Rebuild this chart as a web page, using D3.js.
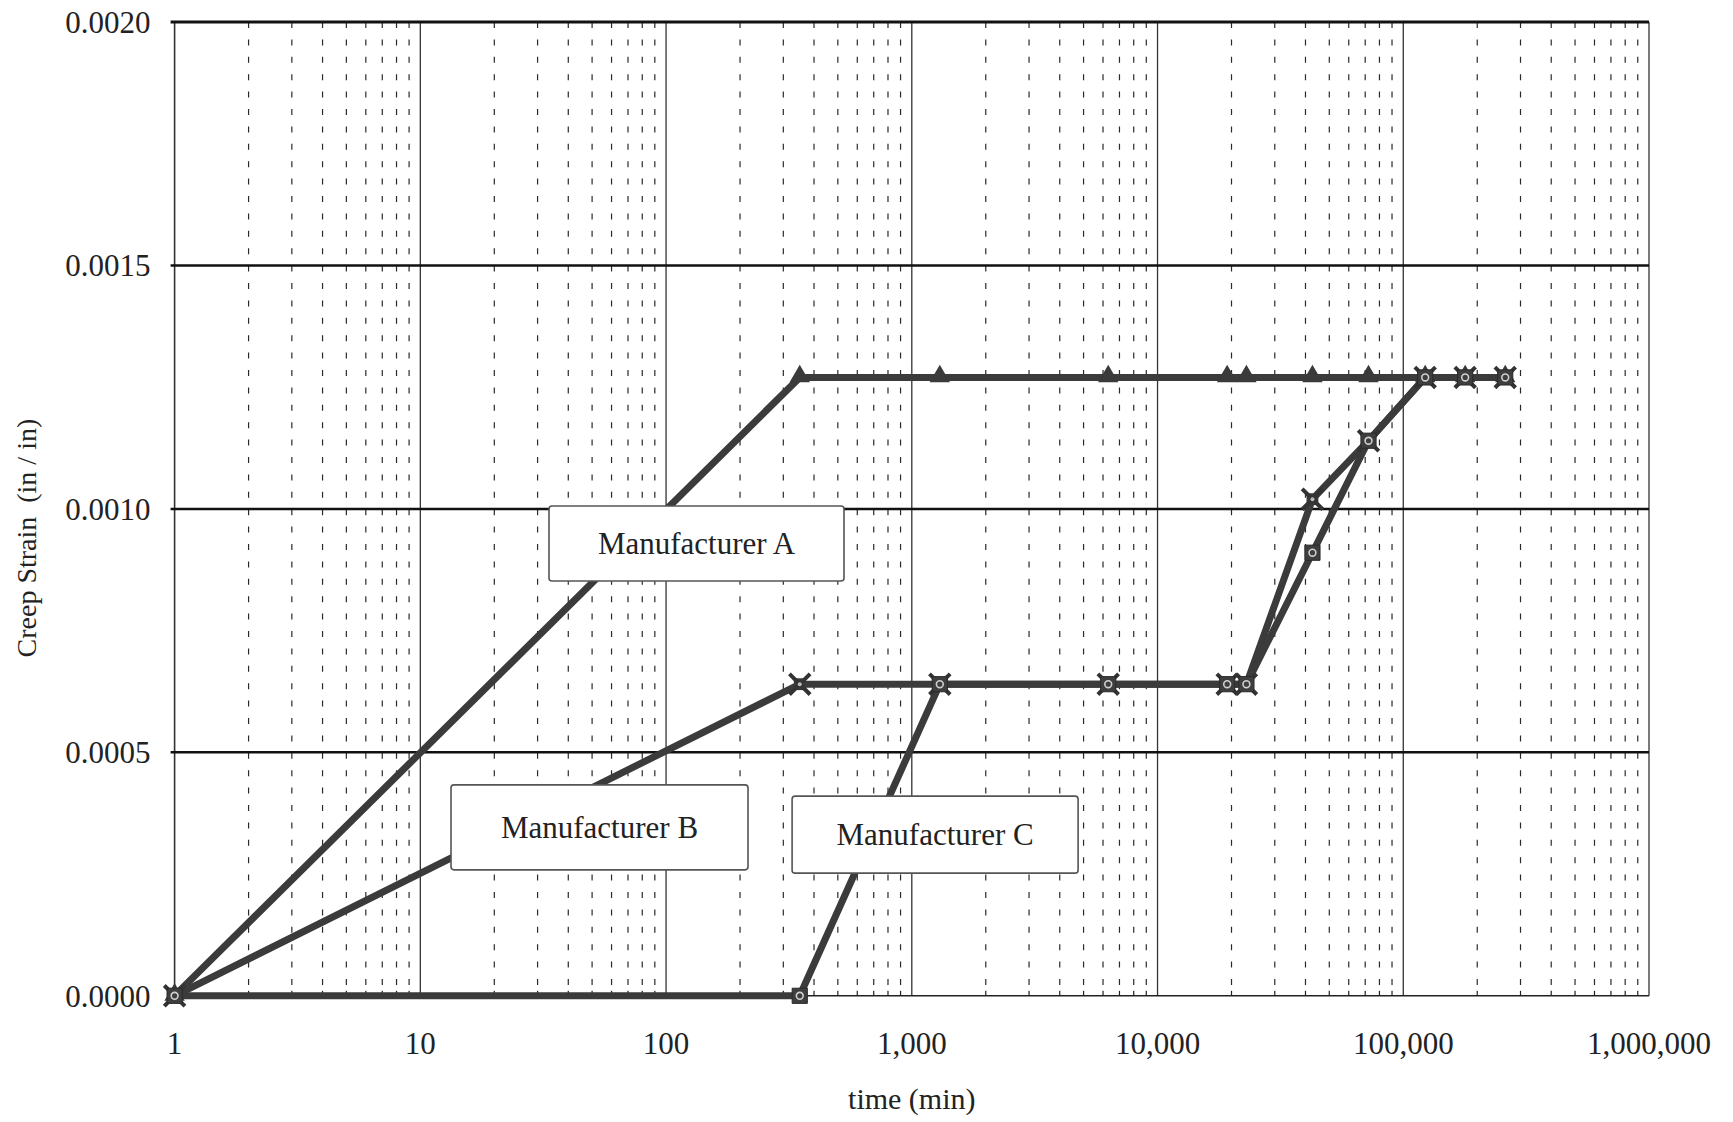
<!DOCTYPE html>
<html>
<head>
<meta charset="utf-8">
<script src="https://cdn.jsdelivr.net/npm/d3@7"></script>
<style>
  html, body { margin: 0; padding: 0; background: #fff; }
  svg { display: block; }
  text { font-family: "Liberation Serif", "Times New Roman", serif; fill: #222; }
</style>
</head>
<body>
<svg id="chart" width="1733" height="1122"></svg>
<script>
// ---- data ----
const timeMin = [1, 350, 1300, 6300, 19200, 23000, 42700, 72200, 122800, 178600, 260000];
const strainA = [0, 0.00127, 0.00127, 0.00127, 0.00127, 0.00127, 0.00127, 0.00127, 0.00127, 0.00127, 0.00127];
const strainB = [0, 0.00064, 0.00064, 0.00064, 0.00064, 0.00064, 0.00102, 0.00114, 0.00127, 0.00127, 0.00127];
const strainC = [0, 0, 0.00064, 0.00064, 0.00064, 0.00064, 0.00091, 0.00114, 0.00127, 0.00127, 0.00127];
const seriesNames = ["Manufacturer A", "Manufacturer B", "Manufacturer C"];
const xTickValues = [1, 10, 100, 1000, 10000, 100000, 1000000];
const yTickValues = [0, 0.0005, 0.0010, 0.0015, 0.0020];
const labelTime = [133, 53.6, 1244];
const labelStrain = [0.000929, 0.000346, 0.000331];
const xTitle = "time (min)";
const yTitle = "Creep Strain  (in / in)";

// ---- layout ----
const W = 1733, H = 1122;
const margin = { left: 174.6, right: 84, top: 22, bottom: 126.2 };
const iw = W - margin.left - margin.right;
const ih = H - margin.top - margin.bottom;
const lineColor = "#3b3b3b";

const svg = d3.select("#chart");
const g = svg.append("g").attr("transform", `translate(${margin.left},${margin.top})`);

const x = d3.scaleLog().domain([1, 1e6]).range([0, iw]);
const y = d3.scaleLinear().domain([0, 0.002]).range([ih, 0]);

// minor vertical grid (dashed)
const minorTicks = [];
xTickValues.slice(0, -1).forEach(d => { for (let k = 2; k <= 9; k++) minorTicks.push(d * k); });
g.append("g").selectAll("line").data(minorTicks).join("line")
  .attr("x1", d => x(d)).attr("x2", d => x(d))
  .attr("y1", 0).attr("y2", ih)
  .attr("stroke", "#2a2a2a").attr("stroke-width", 1.2)
  .attr("stroke-dasharray", "6,11.4");

// decade vertical lines
g.append("g").selectAll("line").data(xTickValues).join("line")
  .attr("x1", d => x(d)).attr("x2", d => x(d))
  .attr("y1", 0).attr("y2", ih)
  .attr("stroke", "#333").attr("stroke-width", d => (d === 1 ? 1.6 : 1.3));

// horizontal grid lines
g.append("g").selectAll("line").data(yTickValues.filter(v => v > 0)).join("line")
  .attr("x1", -4).attr("x2", iw)
  .attr("y1", d => y(d)).attr("y2", d => y(d))
  .attr("stroke", "#111").attr("stroke-width", d => (d === 0.002 ? 3.2 : 2.5));

// bottom axis line with small ticks
g.append("line").attr("x1", 0).attr("x2", iw).attr("y1", ih).attr("y2", ih)
  .attr("stroke", "#222").attr("stroke-width", 1.6);
g.append("g").selectAll("line").data(minorTicks).join("line")
  .attr("x1", d => x(d)).attr("x2", d => x(d))
  .attr("y1", ih).attr("y2", ih - 5)
  .attr("stroke", "#222").attr("stroke-width", 1.2);

// y tick labels
g.append("g").selectAll("text").data(yTickValues).join("text")
  .attr("x", -24).attr("y", d => y(d))
  .attr("dy", "0.35em")
  .attr("text-anchor", "end")
  .attr("font-size", 31)
  .text(d => d3.format(".4f")(d));

// x tick labels
g.append("g").selectAll("text").data(xTickValues).join("text")
  .attr("x", d => x(d)).attr("y", ih + 58)
  .attr("text-anchor", "middle")
  .attr("font-size", 31)
  .text(d => d3.format(",")(d));

// axis titles
g.append("text")
  .attr("x", iw / 2).attr("y", ih + 113)
  .attr("text-anchor", "middle")
  .attr("font-size", 30)
  .text(xTitle);
svg.append("text")
  .attr("transform", `translate(36, ${margin.top + y(0.00094)}) rotate(-90)`)
  .attr("text-anchor", "middle")
  .attr("font-size", 28)
  .style("white-space", "pre")
  .text(yTitle);

// ---- series ----
const seriesData = [strainA, strainB, strainC].map((vals, i) => ({
  name: seriesNames[i],
  points: timeMin.map((t, j) => ({ t, v: vals[j] }))
}));

const line = d3.line().x(d => x(d.t)).y(d => y(d.v));

g.append("g").selectAll("path").data(seriesData).join("path")
  .attr("d", d => line(d.points))
  .attr("fill", "none")
  .attr("stroke", lineColor)
  .attr("stroke-width", 7)
  .attr("stroke-linejoin", "miter");

// markers
const markerG = g.append("g");
// A: triangles
markerG.selectAll(".mA").data(seriesData[0].points).join("path")
  .attr("transform", d => `translate(${x(d.t)},${y(d.v) - 1})`)
  .attr("d", d3.symbol().type(d3.symbolTriangle).size(180))
  .attr("fill", "#3a3a3a");
// B: x-shaped squares
const mB = markerG.selectAll(".mB").data(seriesData[1].points).join("g")
  .attr("transform", d => `translate(${x(d.t)},${y(d.v)})`);
mB.append("path").attr("d", d3.symbol().type(d3.symbolSquare).size(140)).attr("fill", "#3a3a3a");
mB.append("path").attr("d", d3.symbol().type(d3.symbolX).size(280))
  .attr("fill", "none").attr("stroke", "#333").attr("stroke-width", 4);
mB.append("circle").attr("r", 2).attr("fill", "#bbb");
// C: squares with light centre
const mC = markerG.selectAll(".mC").data(seriesData[2].points).join("g")
  .attr("transform", d => `translate(${x(d.t)},${y(d.v)})`);
mC.append("path").attr("d", d3.symbol().type(d3.symbolSquare).size(230))
  .attr("fill", "#3e3e3e").attr("stroke", "#2a2a2a").attr("stroke-width", 1);
mC.append("circle").attr("r", 3.4).attr("fill", "none").attr("stroke", "#d0d0d0").attr("stroke-width", 1.6);

// ---- label boxes ----
const boxSize = [[295, 75], [297, 85], [286, 77]];
const lab = g.append("g").selectAll("g").data(seriesNames).join("g")
  .attr("transform", (d, i) => `translate(${x(labelTime[i])},${y(labelStrain[i])})`);
lab.append("rect")
  .attr("x", (d, i) => -boxSize[i][0] / 2).attr("y", (d, i) => -boxSize[i][1] / 2)
  .attr("width", (d, i) => boxSize[i][0]).attr("height", (d, i) => boxSize[i][1])
  .attr("rx", 3)
  .attr("fill", "#fff").attr("stroke", "#555").attr("stroke-width", 1.6);
lab.append("text")
  .attr("text-anchor", "middle").attr("dy", "0.35em")
  .attr("font-size", 31)
  .text(d => d);
</script>
</body>
</html>
